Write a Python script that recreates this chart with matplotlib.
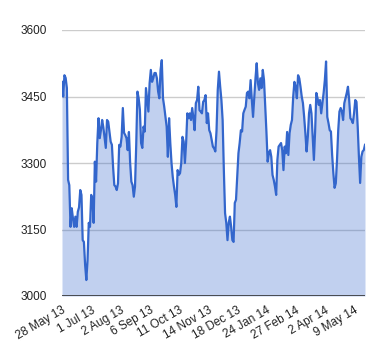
import matplotlib
matplotlib.use("Agg")
import matplotlib.pyplot as plt

# daily closes
closes = [
    3483, 3450, 3498, 3492, 3469, 3262, 3250, 3156, 3198, 3175, 3156, 3179, 3156, 3190, 3200,
    3239, 3228, 3126, 3122, 3070, 3036, 3081, 3165, 3156, 3228, 3217, 3165, 3303, 3258, 3345,
    3401, 3356,
    3374, 3397, 3380, 3356, 3334, 3397, 3393, 3370, 3348, 3341, 3290, 3250, 3247, 3239, 3254,
    3341, 3337, 3359, 3424, 3368, 3363, 3356, 3329, 3370, 3300, 3258, 3250, 3224, 3247, 3341,
    3461, 3446,
    3420, 3345, 3334, 3382, 3371, 3469, 3442, 3416, 3480, 3510, 3483, 3491, 3503, 3503,
    3491, 3461, 3446, 3510, 3532, 3446, 3427, 3404, 3382, 3314, 3401, 3345, 3300, 3269,
    3247, 3228, 3201, 3284, 3273,
    3277, 3300, 3359, 3348, 3300, 3345, 3412, 3401, 3412, 3397, 3424, 3401, 3374, 3435,
    3442, 3472, 3419, 3416, 3412, 3438, 3442, 3453, 3390, 3412, 3374, 3367,
    3352, 3337, 3333, 3326, 3374, 3465, 3506,
    3472, 3442, 3397, 3284, 3187, 3165, 3126, 3165, 3179, 3156, 3126, 3122, 3210, 3217,
    3269, 3322, 3345, 3374, 3371, 3412, 3420, 3427, 3458, 3461, 3446, 3487, 3442,
    3404, 3446, 3491, 3525, 3480, 3465,
    3491, 3469, 3510, 3487, 3431, 3370, 3303, 3322, 3329, 3314, 3273, 3262, 3247,
    3228, 3307, 3337, 3341, 3345, 3329, 3284, 3337, 3322, 3370, 3318, 3367, 3386,
    3397, 3450, 3483, 3472, 3446, 3498, 3491,
    3472, 3450, 3435, 3404, 3367, 3326, 3359, 3412, 3431, 3412, 3359, 3307, 3371, 3458,
    3446, 3431, 3442, 3412, 3435, 3458, 3487, 3529, 3404, 3390, 3374, 3371, 3318, 3277,
    3244, 3254, 3307, 3374, 3416,
    3424, 3416, 3397, 3435, 3446, 3458, 3472, 3442, 3401, 3397, 3390, 3412, 3442, 3438,
    3382, 3314, 3255, 3314, 3326, 3329, 3341,
]
date_labels = ["28 May 13", "1 Jul 13", "2 Aug 13", "6 Sep 13", "11 Oct 13", "14 Nov 13",
               "18 Dec 13", "24 Jan 14", "27 Feb 14", "2 Apr 14", "9 May 14"]
label_every = 24
y_ticks = [3000, 3150, 3300, 3450, 3600]

plt.rcParams["font.family"] = ["Liberation Sans", "DejaVu Sans"]

fig = plt.figure(figsize=(3.8, 3.6), dpi=100)
ax = fig.add_axes([62 / 380, 1 - 296 / 360, 303 / 380, 266 / 360])

x = list(range(len(closes)))
ax.fill_between(x, y_ticks[0], closes, color="#3366cc", alpha=0.3, linewidth=0, zorder=2)
ax.plot(x, closes, color="#3366cc", linewidth=1.6, zorder=3)

ax.set_xlim(0, len(closes) - 1)
ax.set_ylim(y_ticks[0], y_ticks[-1])
ax.set_yticks(y_ticks)
ax.set_yticklabels([str(v) for v in y_ticks])
ax.set_xticks([i * label_every for i in range(len(date_labels))])
ax.set_xticklabels(date_labels, rotation=30, ha="right", rotation_mode="anchor")

# gridlines and baseline
for v in y_ticks[1:]:
    ax.axhline(v, color="#cccccc", linewidth=1, zorder=1)
ax.axhline(y_ticks[0], color="#333333", linewidth=1.2, zorder=4)

for s in ax.spines.values():
    s.set_visible(False)
ax.tick_params(axis="both", length=0, labelsize=8.5, colors="#222222")
ax.tick_params(axis="y", pad=11)
ax.tick_params(axis="x", pad=6)

fig.savefig("out.png", dpi=100)
